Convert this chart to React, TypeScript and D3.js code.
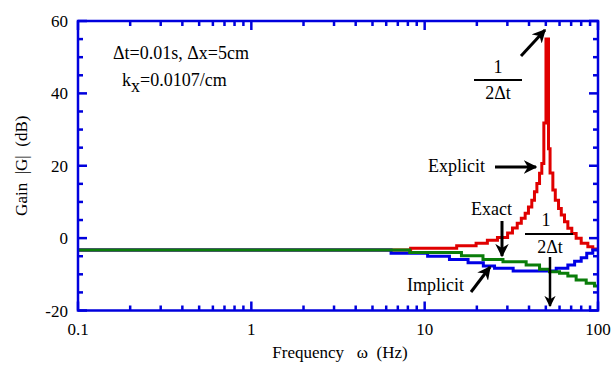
import React from 'react';
import * as d3 from 'd3';

// step data: frequency (Hz) where each step starts, gain (dB)
const explicitFreq = [0.1, 8.3, 15.3, 19.8, 23.0, 26.3, 30.1, 32.1, 34.2, 36.1, 38.0, 39.7, 41.5, 43.0, 44.4, 46.0, 47.4, 48.7, 50.1, 51.8, 52.9, 54.9, 56.7, 59.2, 61.4, 64.1, 67.0, 70.6, 74.8, 80.0, 87.4, 93.3, 100];
const explicitGain = [-3.3, -2.8, -2.1, -1.4, -0.6, 0.2, 1.4, 2.8, 4.1, 5.5, 6.9, 8.6, 10.5, 12.8, 15.1, 17.9, 20.6, 31.8, 55, 24.7, 18, 13.3, 10.5, 8.2, 6.4, 4.5, 2.7, 1.3, 0, -1.4, -2.4, -3, -3];

const implicitFreq = [0.1, 6.4, 10.4, 13.9, 17.8, 21.8, 25.3, 32.4, 57.4, 67.0, 73.3, 80.0, 86.1, 93.3, 100];
const implicitGain = [-3.3, -4.2, -5, -5.9, -6.8, -7.7, -8.3, -9.1, -8.3, -7.4, -6.4, -5.4, -4.2, -3.3, -3.3];

const exactFreq = [0.1, 8.2, 16.3, 21.7, 28.3, 38.5, 46.0, 52.5, 60.0, 67.0, 74.8, 85.5, 95.4, 100];
const exactGain = [-3.3, -4.0, -4.9, -5.9, -6.5, -7.4, -8.6, -9.3, -9.7, -10.5, -11.6, -12.5, -13.2, -13.2];

const xTickValues = [0.1, 1, 10, 100];
const xTickLabels = ['0.1', '1', '10', '100'];
const yTickValues = [-20, 0, 20, 40, 60];

const W = 614;
const H = 365;
const margin = { l: 78, r: 16, t: 21, b: 54.5 };

const axisColor = '#0000dd';
const font = "'Liberation Serif', 'Times New Roman', serif";

const App = () => {
    const x = d3.scaleLog().domain([0.1, 100]).range([margin.l, W - margin.r]);
    const y = d3.scaleLinear().domain([-20, 60]).range([H - margin.b, margin.t]);

    const line = d3.line<[number, number]>()
        .x(d => x(d[0]))
        .y(d => y(d[1]))
        .curve(d3.curveStepAfter);

    // green drawn last, it sits on top of the flat part
    const series = [
        { f: explicitFreq, g: explicitGain, c: '#e00000' },
        { f: implicitFreq, g: implicitGain, c: '#0000e6' },
        { f: exactFreq, g: exactGain, c: '#0a7d0a' },
    ];

    // minor x ticks: 2..9 in every decade
    const xMinor: number[] = [];
    [0.1, 1, 10].forEach(d => { for (let k = 2; k < 10; k++) xMinor.push(d * k); });
    const yAll = d3.range(-20, 61, 5);

    const x0 = x(0.1), x1 = x(100), y0 = y(-20), y1 = y(60);

    return (
        <svg width={W} height={H} style={{ position: 'absolute', left: 0, top: 0, fontFamily: font }}>
            <defs>
                <clipPath id="plot"><rect x={x0} y={y1} width={x1 - x0} height={y0 - y1} /></clipPath>
                <marker id="ah" viewBox="0 0 10 10" refX="9" refY="5" markerWidth="4.5" markerHeight="4.5" orient="auto">
                    <path d="M0,0 L10,5 L0,10 L3,5 Z" fill="#000" />
                </marker>
            </defs>

            {/* curves */}
            <g clipPath="url(#plot)" fill="none">
                {series.map((s, i) =>
                    <path key={i} d={line(s.f.map((f, j) => [f, s.g[j]]) as [number, number][]) || ''}
                        stroke={s.c} strokeWidth={3} />
                )}
            </g>

            {/* frame + ticks */}
            <g stroke={axisColor} strokeWidth={2.5}>
                <rect x={x0} y={y1} width={x1 - x0} height={y0 - y1} fill="none" />
                {xTickValues.map(d => <g key={'xM' + d}>
                    <line x1={x(d)} x2={x(d)} y1={y0} y2={y0 - 9} />
                    <line x1={x(d)} x2={x(d)} y1={y1} y2={y1 + 9} />
                </g>)}
                {xMinor.map(d => <g key={'xm' + d}>
                    <line x1={x(d)} x2={x(d)} y1={y0} y2={y0 - 5} />
                    <line x1={x(d)} x2={x(d)} y1={y1} y2={y1 + 5} />
                </g>)}
                {yAll.map(d => {
                    const len = d % 20 === 0 ? 9 : 5;
                    return <g key={'y' + d}>
                        <line x1={x0} x2={x0 + len} y1={y(d)} y2={y(d)} />
                        <line x1={x1} x2={x1 - len} y1={y(d)} y2={y(d)} />
                    </g>;
                })}
            </g>

            {/* tick labels */}
            <g fontSize={17} fill="#000">
                {xTickValues.map((d, i) =>
                    <text key={d} x={x(d)} y={y0 + 24} textAnchor="middle">{xTickLabels[i]}</text>
                )}
                {yTickValues.map(d =>
                    <text key={d} x={x0 - 10} y={y(d) + 6} textAnchor="end">{d}</text>
                )}
            </g>

            {/* axis titles */}
            <text x={340} y={358} fontSize={17} textAnchor="middle" xmlSpace="preserve">{'Frequency   ω  (Hz)'}</text>
            <text transform={`translate(27,${(y0 + y1) / 2}) rotate(-90)`} fontSize={17} textAnchor="middle" xmlSpace="preserve">{'Gain  |G|  (dB)'}</text>

            {/* annotations */}
            <g fontSize={18} fill="#000">
                <text x={113} y={59}>Δt=0.01s, Δx=5cm</text>
                <text x={122} y={86}>k<tspan dy={6}>x</tspan><tspan dy={-6}>=0.0107/cm</tspan></text>

                <text x={498} y={73} textAnchor="middle">1</text>
                <line x1={474} x2={522} y1={80} y2={80} stroke="#000" strokeWidth={2} />
                <text x={498} y={99} textAnchor="middle">2Δt</text>
                <line x1={521} y1={56} x2={545} y2={30} stroke="#000" strokeWidth={3} markerEnd="url(#ah)" />

                <text x={428} y={172}>Explicit</text>
                <line x1={495} y1={167} x2={536} y2={167} stroke="#000" strokeWidth={3} markerEnd="url(#ah)" />

                <text x={471} y={215}>Exact</text>
                <line x1={502} y1={221} x2={502} y2={256} stroke="#000" strokeWidth={3} markerEnd="url(#ah)" />

                <text x={546} y={226} textAnchor="middle">1</text>
                <line x1={525} x2={573} y1={234} y2={234} stroke="#000" strokeWidth={2} />
                <text x={550} y={253} textAnchor="middle">2Δt</text>
                <line x1={550} y1={257} x2={550} y2={306} stroke="#000" strokeWidth={2.5} markerEnd="url(#ah)" />

                <text x={407} y={291}>Implicit</text>
                <line x1={471} y1={292} x2={490} y2={267} stroke="#000" strokeWidth={3} markerEnd="url(#ah)" />
            </g>
        </svg>
    );
};

export default App;
